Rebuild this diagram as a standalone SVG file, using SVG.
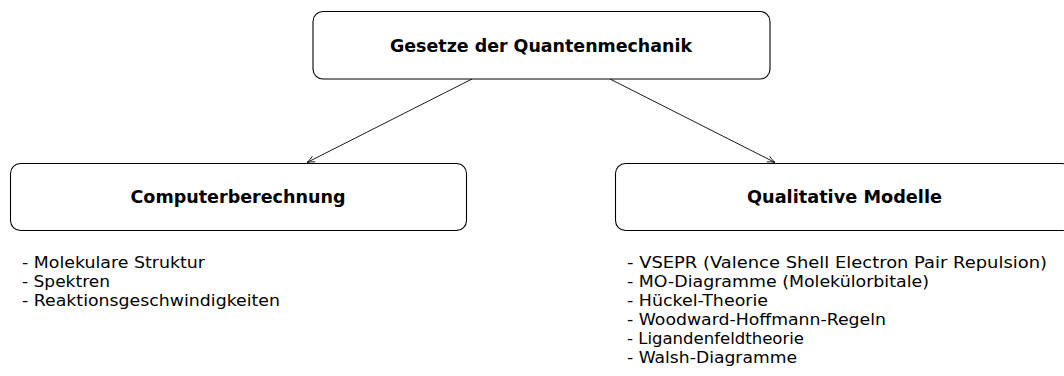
<svg xmlns="http://www.w3.org/2000/svg" width="1064" height="376" viewBox="0 0 1064 376">
<style>
.box{fill:#fff;stroke:#000;stroke-width:1.1}
.t{font-family:"DejaVu Sans",sans-serif;font-weight:bold;font-size:17px;fill:#000}
.l{font-family:"DejaVu Sans",sans-serif;font-size:15.5px;fill:#000}
.c{stroke:#000;stroke-width:0.9;fill:none}
</style>
<defs>
<marker id="ah" viewBox="0 0 10 10" refX="9.5" refY="5" markerWidth="9" markerHeight="9" markerUnits="userSpaceOnUse" orient="auto">
<path d="M1,1.5 Q5,4 9.5,5 Q5,6 1,8.5" fill="none" stroke="#000" stroke-width="0.9"/>
</marker>
</defs>
<rect width="1064" height="376" fill="#fff"/>
<g id="connectors">
<line class="c" x1="472" y1="79" x2="307" y2="162.5" marker-end="url(#ah)"/>
<line class="c" x1="610" y1="79" x2="775" y2="162.5" marker-end="url(#ah)"/>
</g>
<g id="node-top">
<rect class="box" x="313" y="11.5" width="457" height="67.5" rx="10"/>
<text class="t" x="541" y="52" text-anchor="middle" textLength="302" lengthAdjust="spacingAndGlyphs">Gesetze der Quantenmechanik</text>
</g>
<g id="node-computer">
<rect class="box" x="10.5" y="163.5" width="456" height="67" rx="10"/>
<text class="t" x="238" y="203" text-anchor="middle" textLength="215" lengthAdjust="spacingAndGlyphs">Computerberechnung</text>
</g>
<g id="node-qualitative">
<rect class="box" x="615.5" y="163.5" width="456" height="67" rx="10"/>
<text class="t" x="844.5" y="203" text-anchor="middle" textLength="195" lengthAdjust="spacingAndGlyphs">Qualitative Modelle</text>
</g>
<g id="list-computer">
<text class="l" x="22" y="268" textLength="183" lengthAdjust="spacingAndGlyphs">- Molekulare Struktur</text>
<text class="l" x="22" y="287" textLength="88" lengthAdjust="spacingAndGlyphs">- Spektren</text>
<text class="l" x="22" y="306" textLength="258" lengthAdjust="spacingAndGlyphs">- Reaktionsgeschwindigkeiten</text>
</g>
<g id="list-qualitative">
<text class="l" x="627" y="268" textLength="420" lengthAdjust="spacingAndGlyphs">- VSEPR (Valence Shell Electron Pair Repulsion)</text>
<text class="l" x="627" y="287" textLength="302" lengthAdjust="spacingAndGlyphs">- MO-Diagramme (Molekülorbitale)</text>
<text class="l" x="627" y="306" textLength="141" lengthAdjust="spacingAndGlyphs">- Hückel-Theorie</text>
<text class="l" x="627" y="325" textLength="259" lengthAdjust="spacingAndGlyphs">- Woodward-Hoffmann-Regeln</text>
<text class="l" x="627" y="344" textLength="177" lengthAdjust="spacingAndGlyphs">- Ligandenfeldtheorie</text>
<text class="l" x="627" y="363" textLength="170" lengthAdjust="spacingAndGlyphs">- Walsh-Diagramme</text>
</g>
</svg>
